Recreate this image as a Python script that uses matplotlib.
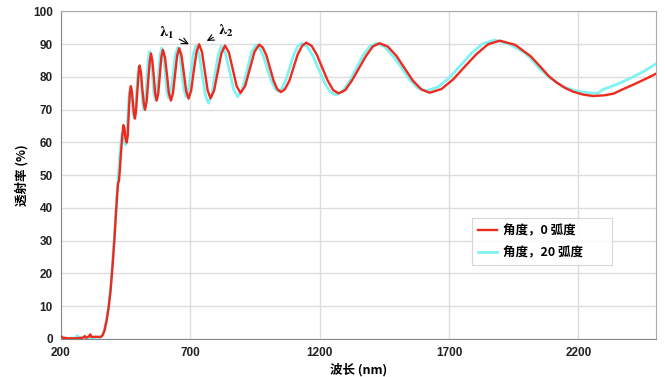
import matplotlib
matplotlib.use("Agg")
import matplotlib.pyplot as plt

plt.rcParams['font.family'] = ['Noto Sans CJK SC', 'DejaVu Sans']

# 波长 (nm) / 透射率 (%) -- 角度 0 弧度
wl_0 = [200, 206, 230, 260, 285, 292, 297, 305, 314, 318, 335, 352, 360, 368, 376,
        384, 392, 400, 407, 413, 418, 421, 424, 427, 432, 437, 441, 445, 449, 454,
        458, 462, 466, 470, 474, 478, 482, 486, 490, 495, 500, 504, 509, 514, 520,
        525, 531, 537, 543, 548, 553, 559, 564, 570, 576, 582, 588, 594, 602, 610,
        617, 625, 633, 641, 649, 657, 666, 675, 684, 693, 703, 713, 724, 734, 745,
        756, 767, 778, 792, 806, 820, 834, 849, 864, 879, 894, 912, 930, 948, 966,
        980, 994, 1008, 1022, 1036, 1050, 1066, 1083, 1099, 1115, 1132, 1148, 1169,
        1190, 1210, 1231, 1252, 1273, 1299, 1326, 1352, 1378, 1405, 1431, 1463, 1496,
        1528, 1560, 1593, 1625, 1670, 1715, 1760, 1806, 1851, 1896, 1956, 2016, 2051,
        2085, 2116, 2150, 2180, 2220, 2257, 2300, 2335, 2373, 2405, 2438, 2470, 2500]
tr_0 = [0.9, 0.4, 0.2, 0.2, 0.4, 0.9, 0.4, 0.6, 1.4, 0.6, 0.7, 0.6, 1.0, 2.5, 5.5,
        9.5, 15, 23, 31, 39, 45, 47.8, 48.2, 51, 57, 62, 65.3, 64.5, 61.5, 60,
        62, 69, 75, 77.2, 75.7, 72.2, 68.8, 67.3, 69.6, 75.4, 81.2, 83.5, 81.5, 76.7, 72.0,
        70.0, 72.5, 78.6, 84.7, 87.2, 85.0, 80.0, 75.0, 72.8, 75.0, 80.5, 86.0, 88.3, 86.0, 80.5,
        75.1, 72.8, 75.1, 80.8, 86.5, 88.8, 86.5, 81.1, 75.7, 73.4, 75.8, 81.7, 87.6, 90.0, 87.6,
        81.8, 75.9, 73.5, 75.9, 81.6, 87.2, 89.6, 87.5, 82.4, 77.2, 75.1, 77.3, 82.5, 87.7, 89.9,
        89.0, 86.6, 82.7, 78.8, 76.3, 75.4, 76.3, 78.9, 82.9, 86.9, 89.5, 90.5, 89.5,
        86.6, 82.8, 78.9, 76.0, 75.0, 76.0, 79.1, 82.7, 86.3, 89.3, 90.3, 89.3, 86.5,
        82.7, 78.9, 76.2, 75.2, 76.3, 79.2, 83.1, 87.0, 90.0, 91.1, 89.8, 86.3, 83.3,
        80.3, 78.3, 76.6, 75.5, 74.6, 74.2, 74.4, 74.9, 76.3, 77.4, 78.6, 79.8, 81.0]

# 角度 20 弧度
wl_20 = [200, 204, 225, 255, 263, 270, 280, 300, 320, 345, 355, 362, 368, 376, 384,
         392, 400, 407, 413, 418, 424, 430, 436, 440, 445, 451, 455, 459, 463, 467,
         471, 475, 479, 483, 488, 492, 497, 501, 506, 511, 516, 521, 526, 532, 537,
         542, 548, 554, 559, 565, 571, 577, 583, 589, 596, 603, 609, 616, 625, 634,
         642, 651, 659, 667, 675, 683, 693, 703, 712, 722, 734, 746, 758, 770, 783,
         795, 808, 820, 836, 852, 867, 883, 901, 919, 936, 954, 968, 983, 997, 1011,
         1026, 1040, 1055, 1070, 1085, 1100, 1115, 1130, 1152, 1174, 1196, 1218, 1240,
         1262, 1288, 1314, 1340, 1366, 1392, 1418, 1450, 1483, 1515, 1547, 1580, 1612,
         1656, 1700, 1744, 1787, 1831, 1875, 1935, 1990, 2012, 2050, 2090, 2141, 2180,
         2218, 2250, 2275, 2285, 2296, 2350, 2400, 2450, 2500]
tr_20 = [1.0, 0.4, 0.2, 0.3, 1.0, 0.5, 0.3, 0.4, 0.3, 0.5, 0.6, 1.5, 2.8, 5.8, 10,
         16, 24, 32, 40, 46, 52.5, 58.5, 62.8, 62.0, 59.8, 59.3, 62.5, 69, 74, 76.5,
         75.2, 72.0, 68.8, 67.5, 69.8, 75.3, 80.9, 83.2, 81.3, 76.6, 71.9, 70.0, 72.6, 78.9, 85.2,
         87.8, 85.6, 80.4, 75.2, 73.0, 75.3, 80.9, 86.5, 88.8, 86.6, 81.2, 75.8, 73.6, 75.8, 81.3,
         86.8, 89.0, 86.8, 81.5, 76.2, 74.0, 76.2, 81.7, 87.2, 89.4, 86.9, 80.7, 74.5, 72.0, 74.5,
         80.7, 86.9, 89.4, 87.2, 81.7, 76.3, 74.0, 76.3, 81.9, 87.5, 89.8, 88.8, 86.2, 82.7, 79.2,
         76.6, 75.6, 76.6, 79.3, 83.0, 86.8, 89.4, 90.3, 89.3, 86.4, 82.4, 78.4, 75.5,
         74.5, 75.6, 78.5, 82.4, 86.4, 89.2, 90.3, 89.3, 86.4, 83.0, 79.2, 76.6, 75.8,
         76.9, 79.7, 83.5, 87.3, 90.2, 91.3, 90.0, 87.5, 86.0, 82.5, 79.7, 77.0, 76.0,
         75.4, 75.1, 75.0, 75.6, 76.2, 77.8, 79.6, 81.6, 84.0]

x_ticks = [200, 700, 1200, 1700, 2200]
y_ticks = list(range(0, 101, 10))

fig = plt.figure(figsize=(6.65, 3.77), dpi=100)
ax = fig.add_axes([0.0917, 0.1008, 0.8948, 0.8687])

ax.plot(wl_20, tr_20, color='#80f2f2', lw=2.0, label='角度，20 弧度', zorder=3)
ax.plot(wl_0, tr_0, color='#ee2a1e', lw=1.7, label='角度，0 弧度', zorder=4)

ax.set_xlim(200, 2500)
ax.set_ylim(0, 100)
ax.set_xticks(x_ticks)
ax.set_yticks(y_ticks)
ax.grid(True, color='#dddddd', lw=1.0)
ax.set_axisbelow(True)
ax.tick_params(length=0, pad=6, labelsize=8.5, labelcolor='#222222')
for lab in ax.get_xticklabels() + ax.get_yticklabels():
    lab.set_fontfamily(['Liberation Sans', 'DejaVu Sans'])
    lab.set_fontweight('bold')
for side in ['top', 'right']:
    ax.spines[side].set_color('#aaaaaa')
for side in ['left', 'bottom']:
    ax.spines[side].set_color('#888888')

ax.set_xlabel('波长 (nm)', fontsize=9, fontweight='bold', labelpad=3)
ax.set_ylabel('透射率 (%)', fontsize=9, fontweight='bold', labelpad=3)

# λ1 / λ2 标注
ax.annotate(r'$\mathbf{\lambda_1}$', xy=(704, 89.6), xytext=(607, 93.6),
            fontsize=11, ha='center', va='center', math_fontfamily='stix',
            arrowprops=dict(arrowstyle='->', color='black', lw=0.8))
ax.annotate(r'$\mathbf{\lambda_2}$', xy=(754, 90.6), xytext=(839, 94.3),
            fontsize=11, ha='center', va='center', math_fontfamily='stix',
            arrowprops=dict(arrowstyle='->', color='black', lw=0.8))

leg = ax.legend(handles=ax.get_lines()[::-1], loc='upper left',
                bbox_to_anchor=(0.691, 0.229, 0.235, 0.14), mode='expand',
                borderaxespad=0, frameon=True,
                fancybox=False, handlelength=1.5, handletextpad=0.5,
                borderpad=0.5, labelspacing=0.7,
                prop={'weight': 'bold', 'size': 9})
leg.get_frame().set_edgecolor('#cccccc')
leg.get_frame().set_linewidth(0.8)

fig.savefig('out.png', dpi=100)
